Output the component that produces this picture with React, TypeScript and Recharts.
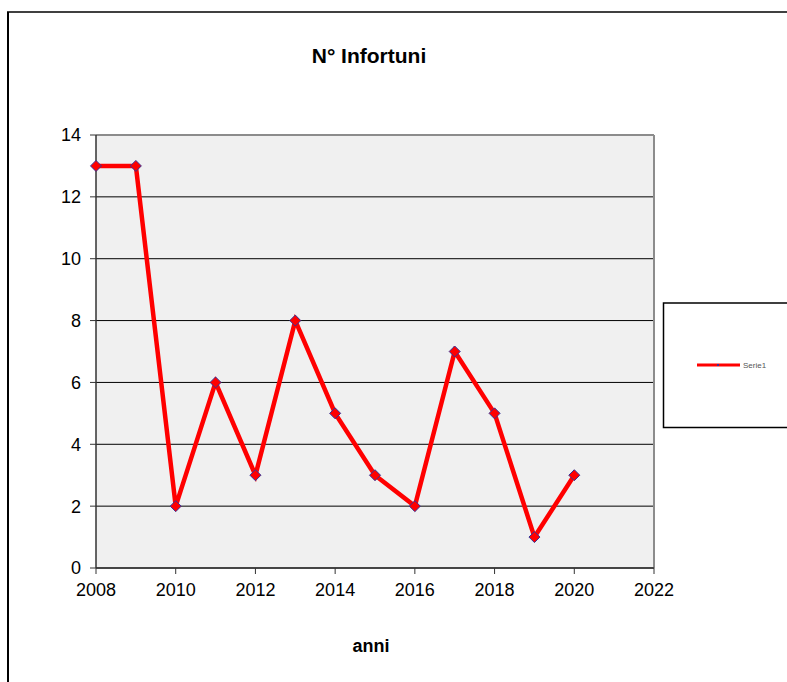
import React from "react";
import { LineChart, Line, XAxis, YAxis, CartesianGrid, ReferenceLine } from "recharts";

const years = [2008, 2009, 2010, 2011, 2012, 2013, 2014, 2015, 2016, 2017, 2018, 2019, 2020];
const infortuni = [13, 13, 2, 6, 3, 8, 5, 3, 2, 7, 5, 1, 3];
const xTicks = [2008, 2010, 2012, 2014, 2016, 2018, 2020, 2022];
const yTicks = [0, 2, 4, 6, 8, 10, 12, 14];
const title = "N° Infortuni";
const xLabel = "anni";
const seriesName = "Serie1";

const data = years.map((y, i) => ({ anno: y, valore: infortuni[i] }));

const FONT = "'Liberation Sans', Arial, sans-serif";

const Diamond = (props: any) => {
  const { cx, cy, index } = props;
  if (cx == null || cy == null) return <g key={`d-${index}`} />;
  const r = 5.5;
  return (
    <path
      key={`d-${index}`}
      d={`M${cx},${cy - r} L${cx + r},${cy} L${cx},${cy + r} L${cx - r},${cy} Z`}
      fill="#ff0000"
      stroke="#333399"
      strokeWidth={1}
    />
  );
};

export default function App() {
  return (
    <div style={{ position: "absolute", left: 0, top: 0, width: 787, height: 682, background: "#fff" }}>
      <LineChart
        width={787}
        height={682}
        data={data}
        margin={{ top: 135, right: 133, bottom: 74, left: 36 }}
      >
        <CartesianGrid vertical={false} stroke="#000" strokeWidth={1} fill="#f0f0f0" fillOpacity={1} />
        <XAxis
          dataKey="anno"
          type="number"
          domain={[2008, 2022]}
          ticks={xTicks}
          height={40}
          tickSize={6}
          tickMargin={9}
          axisLine={{ stroke: "#333", strokeWidth: 1.5 }}
          tickLine={{ stroke: "#333", strokeWidth: 1 }}
          tick={{ fill: "#000", fontSize: 18, fontFamily: FONT }}
        />
        <YAxis
          type="number"
          domain={[0, 14]}
          ticks={yTicks}
          width={60}
          tickSize={6}
          tickMargin={9}
          axisLine={{ stroke: "#333", strokeWidth: 1.5 }}
          tickLine={{ stroke: "#333", strokeWidth: 1 }}
          tick={{ fill: "#000", fontSize: 18, fontFamily: FONT }}
        />
        <ReferenceLine y={14} stroke="#8c8c8c" strokeWidth={2} />
        <ReferenceLine x={2022} stroke="#8c8c8c" strokeWidth={2} />
        <Line
          dataKey="valore"
          name={seriesName}
          stroke="#ff0000"
          strokeWidth={4.5}
          dot={Diamond}
          activeDot={false}
          isAnimationActive={false}
        />
      </LineChart>
      <svg
        width={787}
        height={682}
        style={{ position: "absolute", left: 0, top: 0, pointerEvents: "none" }}
      >
        <line x1={8} y1={12} x2={8} y2={682} stroke="#000" strokeWidth={2} />
        <line x1={7} y1={12} x2={787} y2={12} stroke="#000" strokeWidth={1.5} />
        <text x={369} y={63} textAnchor="middle" fontFamily={FONT} fontWeight="bold" fontSize={21} fill="#000">
          {title}
        </text>
        <text x={371} y={652} textAnchor="middle" fontFamily={FONT} fontWeight="bold" fontSize={18} fill="#000">
          {xLabel}
        </text>
        <rect x={663.5} y={303} width={130} height={124.5} fill="#fff" stroke="#000" strokeWidth={1.5} />
        <line x1={697} y1={365} x2={740} y2={365} stroke="#ff0000" strokeWidth={3} />
        <rect x={717} y={364} width={2} height={2} fill="#333399" />
        <text x={743} y={368} fontFamily={FONT} fontSize={8} fill="#555">
          {seriesName}
        </text>
      </svg>
    </div>
  );
}
